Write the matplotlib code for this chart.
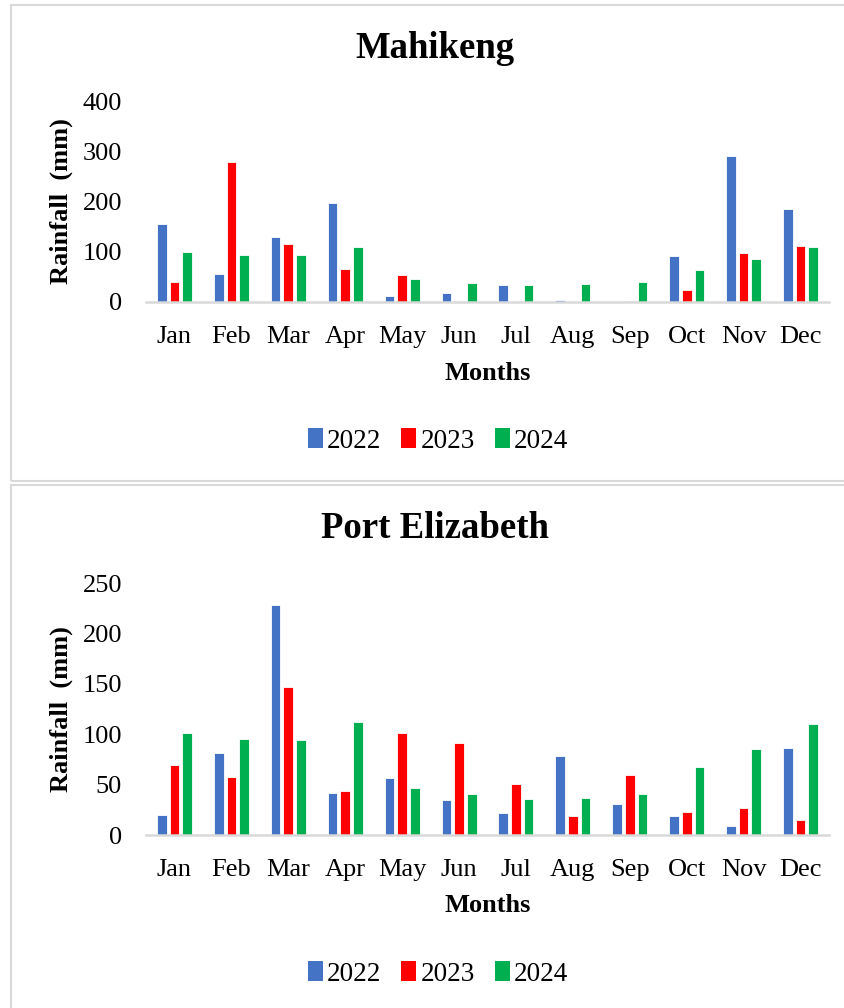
import numpy as np
import matplotlib.pyplot as plt
from matplotlib.patches import Rectangle, Patch

months = ["Jan", "Feb", "Mar", "Apr", "May", "Jun",
          "Jul", "Aug", "Sep", "Oct", "Nov", "Dec"]
years = ["2022", "2023", "2024"]
colors = ["#4472C4", "#FF0000", "#00B050"]

# Mahikeng monthly rainfall (mm)
mahikeng_2022 = [155, 55, 129, 197, 11, 18, 33, 3, 0, 92, 291, 186]
mahikeng_2023 = [39, 279, 115, 65, 53, 0, 0, 0, 2, 23, 97, 111]
mahikeng_2024 = [100, 94, 93, 109, 45, 38, 34, 35, 40, 64, 85, 109]

# Port Elizabeth monthly rainfall (mm)
pe_2022 = [19.5, 81, 228, 42, 57, 35, 22, 78.5, 31, 19, 9.3, 86]
pe_2023 = [69.5, 57.6, 146.5, 43.4, 101, 91, 51, 18.5, 59.6, 23, 27, 14.6]
pe_2024 = [101.5, 95.7, 94.4, 112, 47, 40.4, 36, 36.8, 40.4, 67.5, 85, 110.3]

plt.rcParams["font.family"] = ["Liberation Serif", "DejaVu Serif"]

W, H = 845, 1008
fig = plt.figure(figsize=(W / 100, H / 100), dpi=100)

# light grey panel frames
for y0, y1 in [(5, 481), (485, 1020)]:
    fig.patches.append(Rectangle((11 / W, 1 - y1 / H), 1, (y1 - y0) / H,
                                 transform=fig.transFigure, fill=False,
                                 edgecolor="#d9d9d9", linewidth=1.5))


def draw_panel(top, bottom, title, series, ymax, step, title_y, months_y, legend_y):
    ax = fig.add_axes([146 / W, 1 - bottom / H, (829 - 146) / W, (bottom - top) / H])
    x = np.arange(len(months))
    width = 0.17
    for i, (vals, c) in enumerate(zip(series, colors)):
        ax.bar(x + (i - 1) * 0.223, vals, width, color=c, edgecolor="white",
               linewidth=0.6, label=years[i])
    ax.set_xlim(-0.5, len(months) - 0.5)
    ax.set_ylim(0, ymax)
    ax.set_yticks(np.arange(0, ymax + 1, step))
    ax.set_xticks(x)
    ax.set_xticklabels(months)
    ax.tick_params(axis="both", length=0, labelsize=19)
    ax.tick_params(axis="x", pad=17.5)
    ax.tick_params(axis="y", pad=17.3)
    for s in ["top", "right", "left"]:
        ax.spines[s].set_visible(False)
    ax.spines["bottom"].set_color("#d9d9d9")
    ax.spines["bottom"].set_linewidth(1.8)
    ax.set_ylabel("Rainfall  (mm)", fontsize=19, fontweight="bold")
    ax.yaxis.set_label_coords((73 - 146) / (829 - 146), 0.5)

    fig.text(435 / W, 1 - title_y / H, title, ha="center", va="center",
             fontsize=26.5, fontweight="bold")
    fig.text(488 / W, 1 - months_y / H, "Months", ha="center", va="center",
             fontsize=19, fontweight="bold")
    handles = [Patch(facecolor=c, label=y) for c, y in zip(colors, years)]
    fig.legend(handles=handles, loc="center", bbox_to_anchor=(438 / W, 1 - legend_y / H),
               ncol=3, frameon=False, fontsize=19.5, handlelength=0.55,
               handleheight=0.75, handletextpad=0.15, columnspacing=0.75)
    return ax


draw_panel(101, 302, "Mahikeng", [mahikeng_2022, mahikeng_2023, mahikeng_2024],
           400, 100, 48, 373, 441)
draw_panel(583, 835, "Port Elizabeth", [pe_2022, pe_2023, pe_2024],
           250, 50, 528, 906, 974)

fig.savefig("out.png", dpi=100, facecolor="white")
